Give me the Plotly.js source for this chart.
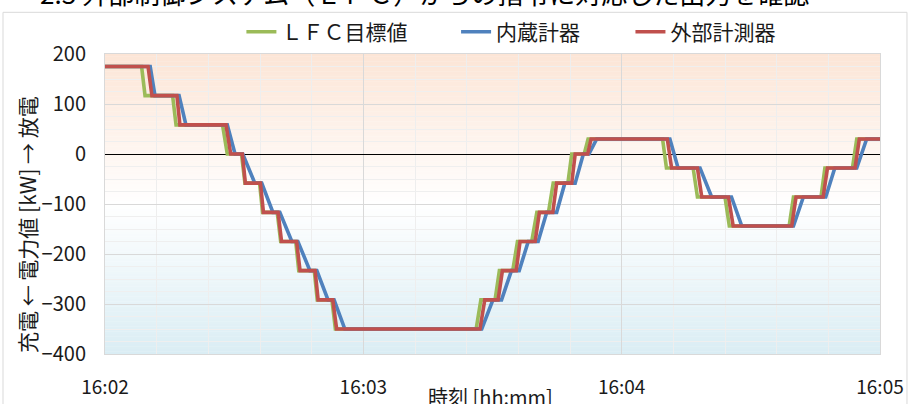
<!DOCTYPE html>
<html>
<head>
<meta charset="utf-8">
<script src="https://cdn.plot.ly/plotly-3.0.1.min.js"></script>
<style>
html,body{margin:0;padding:0;background:#fff;overflow:hidden;}
#chart{width:914px;height:404px;}
</style>
</head>
<body>
<div id="chart"></div>
<script>
// ---- data (seconds after 16:02:00, values in kW) ----
const seriesNames = ["ＬＦＣ目標値", "内蔵計器", "外部計測器"];
const xTickLabels = ["16:02", "16:03", "16:04", "16:05"];
const levels = [175, 116.7, 58.3, 0, -58.3, -116.7, -175, -233.3, -291.7, -350,
                -291.7, -233.3, -175, -116.7, -58.3, 0, 30, -28, -86, -144, -86, -28, 30];
// step transition start / end times for each series
const lfcStart = [8.5, 15.7, 27.3, 31.7, 35.9, 40.0, 44.3, 48.6, 52.7, 86.2, 90.6, 94.7, 99.1, 103.0, 107.5, 111.3, 129.5, 136.6, 144.0, 158.9, 166.3, 173.6];
const lfcEnd   = [9.3, 16.5, 28.4, 32.5, 36.6, 40.8, 45.0, 49.3, 53.5, 87.3, 91.6, 95.8, 100.3, 104.1, 108.4, 112.2, 130.4, 137.6, 145.0, 159.9, 167.2, 174.6];
const intStart = [10.5, 17.2, 28.4, 32.0, 36.4, 40.6, 44.8, 49.2, 53.2, 87.5, 92.1, 96.2, 100.6, 104.9, 109.2, 112.4, 131.2, 138.2, 145.5, 159.9, 167.4, 174.6];
const intEnd   = [11.6, 18.8, 30.2, 34.8, 39.0, 43.4, 47.6, 51.8, 55.7, 90.1, 94.4, 98.3, 102.6, 106.8, 111.1, 114.2, 133.1, 140.9, 147.9, 162.2, 169.5, 176.9];
const extStart = [10.0, 16.7, 28.1, 31.9, 36.1, 40.2, 44.5, 48.8, 52.9, 87.1, 91.3, 95.5, 99.9, 104.0, 108.4, 112.1, 130.6, 137.6, 144.8, 159.5, 166.8, 174.2];
const extEnd   = [10.9, 17.4, 29.2, 32.6, 36.8, 41.0, 45.3, 49.5, 53.8, 88.2, 92.3, 96.4, 100.9, 104.9, 109.2, 112.9, 131.6, 138.6, 145.9, 160.5, 167.8, 175.2];
const duration = 180;

// ---- build line vertices ----
const T0 = Date.UTC(2020, 0, 1, 16, 2, 0);
function build(st, en) {
  const xs = [0], ys = [levels[0]];
  for (let i = 0; i < st.length; i++) {
    xs.push(st[i], en[i]);
    ys.push(levels[i], levels[i + 1]);
  }
  xs.push(duration); ys.push(levels[levels.length - 1]);
  return {x: xs.map(s => T0 + s * 1000), y: ys};
}
const colors = ["#9bbb59", "#4f81bd", "#c0504d"];
const legendIds = ["legend", "legend2", "legend3"];
const sets = [build(lfcStart, lfcEnd), build(intStart, intEnd), build(extStart, extEnd)];
const traces = sets.map((d, i) => ({
  type: "scatter", mode: "lines", x: d.x, y: d.y, name: seriesNames[i], legend: legendIds[i],
  line: {color: colors[i], width: 3.6}, hoverinfo: "skip"
}));

// ---- background gradient (styling) ----
const stops = [[200, [252, 229, 214]], [0, [254, 246, 241]], [-100, [255, 255, 255]], [-400, [218, 237, 244]]];
function colAt(v) {
  for (let i = 0; i < stops.length - 1; i++) {
    const a = stops[i], b = stops[i + 1];
    if (v <= a[0] && v >= b[0]) {
      const f = (a[0] - v) / (a[0] - b[0]);
      const c = a[1].map((x, k) => Math.round(x + (b[1][k] - x) * f));
      return "rgb(" + c.join(",") + ")";
    }
  }
  return "#fff";
}
const shapes = [];
for (let v = 200; v > -400; v -= 5) {
  shapes.push({type: "rect", xref: "paper", yref: "y", x0: 0, x1: 1, y0: v - 5.3, y1: v,
    fillcolor: colAt(v - 2.5), line: {width: 0}, layer: "below"});
}
// outer chart frame
shapes.push({type: "rect", xref: "paper", yref: "paper", x0: -0.1316, x1: 1.0348, y0: -0.17, y1: 1.139,
  line: {color: "#d9d9d9", width: 1}, fillcolor: "rgba(0,0,0,0)", layer: "below"});

const FONT = "'Noto Sans CJK JP', 'Noto Sans', sans-serif";
function leg(x) {
  return {orientation: "h", x: x, xanchor: "left", y: 1.073, yanchor: "middle",
    font: {size: 21, family: FONT, color: "#1a1a1a"}, bgcolor: "rgba(0,0,0,0)", itemwidth: 30};
}
const layout = {
  width: 914, height: 404,
  margin: {l: 105, r: 34, t: 52, b: 50},
  paper_bgcolor: "#ffffff", plot_bgcolor: "rgba(0,0,0,0)",
  font: {family: FONT, color: "#1a1a1a", size: 19},
  showlegend: true,
  legend: leg(0.176), legend2: leg(0.453), legend3: leg(0.678),
  xaxis: {
    type: "date", range: [T0, T0 + duration * 1000], tick0: T0, dtick: 60000,
    tickformat: "%H:%M", showgrid: true, gridcolor: "#d9d9d9", gridwidth: 1,
    minor: {dtick: 12000, showgrid: true, gridcolor: "#eeeeee", gridwidth: 1},
    showline: true, linecolor: "#d9d9d9", mirror: true, zeroline: false,
    ticks: "", ticklabelstandoff: 16, tickfont: {size: 19}
  },
  yaxis: {
    range: [-400, 200], dtick: 100, tick0: 0, showgrid: true, gridcolor: "#d9d9d9", gridwidth: 1,
    minor: {dtick: 25, showgrid: true, gridcolor: "#efefef", gridwidth: 1},
    zeroline: true, zerolinecolor: "#000000", zerolinewidth: 1,
    showline: true, linecolor: "#d9d9d9", mirror: true,
    ticks: "", ticklabelstandoff: 14, tickfont: {size: 20}
  },
  shapes: shapes,
  annotations: [
    {text: "充電 ← 電力値 [kW] → 放電", xref: "paper", yref: "paper", x: -0.1006, y: 0.43,
     xanchor: "center", yanchor: "middle", textangle: -90, showarrow: false, font: {size: 21, family: FONT}},
    {text: "時刻 [hh:mm]", xref: "paper", yref: "paper", x: 0.498, y: -0.14,
     xanchor: "center", yanchor: "middle", showarrow: false, font: {size: 20, family: FONT}},
    {text: "2.3 外部制御システム（ＬＦＣ）からの指令に対応した出力を確認", xref: "paper", yref: "paper", x: -0.087, y: 1.205,
     xanchor: "left", yanchor: "middle", showarrow: false, font: {size: 26, family: FONT, color: "#000"}}
  ]
};
Plotly.newPlot("chart", traces, layout, {staticPlot: true, displayModeBar: false});
</script>
</body>
</html>
